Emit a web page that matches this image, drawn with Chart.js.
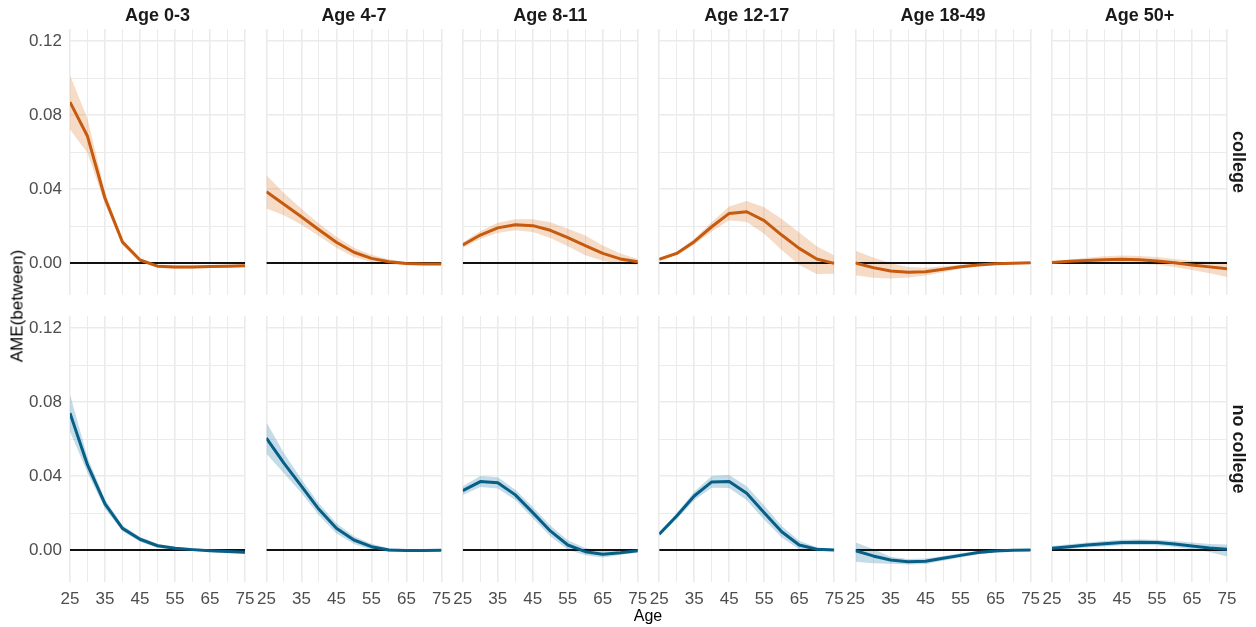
<!DOCTYPE html>
<html>
<head>
<meta charset="utf-8">
<title>AME(between) by age</title>
<script src="https://cdn.jsdelivr.net/npm/chart.js@4.4.1/dist/chart.umd.min.js"></script>
<style>
  html, body { margin: 0; padding: 0; background: #ffffff; }
  #wrap { position: relative; width: 1256px; height: 627px; overflow: hidden;
          font-family: "Liberation Sans", Arial, sans-serif; }
  #wrap canvas { position: absolute; left: 0; top: 0; }
  .lab { position: absolute; white-space: nowrap; line-height: 1; }
</style>
</head>
<body>
<div id="wrap"></div>
<script>
// ---- data -------------------------------------------------------------
const ages = [25, 30, 35, 40, 45, 50, 55, 60, 65, 70, 75];
const childAgeGroups = ['Age 0-3', 'Age 4-7', 'Age 8-11', 'Age 12-17', 'Age 18-49', 'Age 50+'];
const educationLevels = ['college', 'no college'];
const yGridValues = [0, 0.02, 0.04, 0.06, 0.08, 0.10, 0.12];
const yTickLabels = ['0.00', '', '0.04', '', '0.08', '', '0.12'];
const xTickLabels = ['25', '', '35', '', '45', '', '55', '', '65', '', '75'];
const referenceLevel = 0;

// college: estimate, lower and upper bound per age
const collegeEst03  = [0.0870, 0.0685, 0.0350, 0.0113, 0.0016, -0.0017, -0.0022, -0.0021, -0.0019, -0.0017, -0.0015];
const collegeLow03  = [0.0722, 0.0595, 0.0318, 0.0098, 0.0007, -0.0026, -0.0032, -0.0030, -0.0027, -0.0024, -0.0022];
const collegeHigh03 = [0.1015, 0.0780, 0.0385, 0.0128, 0.0025, -0.0008, -0.0012, -0.0012, -0.0011, -0.0010, -0.0008];

const collegeEst47  = [0.0385, 0.0318, 0.0250, 0.0180, 0.0112, 0.0058, 0.0025, 0.0007, -0.0003, -0.0005, -0.0005];
const collegeLow47  = [0.0295, 0.0258, 0.0207, 0.0146, 0.0082, 0.0033, 0.0005, -0.0006, -0.0012, -0.0012, -0.0010];
const collegeHigh47 = [0.0475, 0.0378, 0.0293, 0.0214, 0.0142, 0.0083, 0.0045, 0.0020, 0.0006, 0.0002, 0.0000];

const collegeEst811  = [0.0097, 0.0151, 0.0190, 0.0207, 0.0202, 0.0177, 0.0137, 0.0094, 0.0052, 0.0022, 0.0007];
const collegeLow811  = [0.0082, 0.0130, 0.0163, 0.0177, 0.0167, 0.0135, 0.0090, 0.0042, 0.0012, -0.0005, -0.0008];
const collegeHigh811 = [0.0112, 0.0172, 0.0217, 0.0237, 0.0237, 0.0220, 0.0185, 0.0148, 0.0095, 0.0052, 0.0022];

const collegeEst1217  = [0.0020, 0.0052, 0.0115, 0.0196, 0.0268, 0.0277, 0.0229, 0.0151, 0.0079, 0.0022, -0.0002];
const collegeLow1217  = [0.0014, 0.0042, 0.0100, 0.0170, 0.0231, 0.0222, 0.0158, 0.0070, -0.0011, -0.0060, -0.0058];
const collegeHigh1217 = [0.0026, 0.0062, 0.0130, 0.0222, 0.0305, 0.0335, 0.0302, 0.0238, 0.0165, 0.0090, 0.0040];

const collegeEst1849  = [0.0000, -0.0025, -0.0043, -0.0050, -0.0047, -0.0034, -0.0020, -0.0011, -0.0004, -0.0002, 0.0001];
const collegeLow1849  = [-0.0066, -0.0080, -0.0084, -0.0078, -0.0068, -0.0050, -0.0031, -0.0018, -0.0009, -0.0005, -0.0001];
const collegeHigh1849 = [0.0066, 0.0030, -0.0002, -0.0022, -0.0026, -0.0018, -0.0009, -0.0004, 0.0001, 0.0001, 0.0003];

const collegeEst50  = [0.0003, 0.0009, 0.0014, 0.0018, 0.0020, 0.0017, 0.0011, 0.0001, -0.0011, -0.0021, -0.0031];
const collegeLow50  = [-0.0002, 0.0000, 0.0000, 0.0000, 0.0000, -0.0004, -0.0010, -0.0022, -0.0038, -0.0056, -0.0076];
const collegeHigh50 = [0.0008, 0.0018, 0.0028, 0.0036, 0.0040, 0.0038, 0.0032, 0.0022, 0.0012, 0.0008, 0.0005];

// no college: estimate, lower and upper bound per age
const noCollegeEst03  = [0.0740, 0.0460, 0.0249, 0.0117, 0.0058, 0.0023, 0.0009, 0.0002, -0.0004, -0.0008, -0.0012];
const noCollegeLow03  = [0.0640, 0.0418, 0.0223, 0.0101, 0.0044, 0.0012, 0.0000, -0.0006, -0.0011, -0.0016, -0.0021];
const noCollegeHigh03 = [0.0840, 0.0502, 0.0275, 0.0133, 0.0072, 0.0034, 0.0018, 0.0010, 0.0003, 0.0000, -0.0003];

const noCollegeEst47  = [0.0605, 0.0470, 0.0345, 0.0220, 0.0117, 0.0054, 0.0018, 0.0000, -0.0003, -0.0003, -0.0002];
const noCollegeLow47  = [0.0520, 0.0415, 0.0308, 0.0188, 0.0089, 0.0033, 0.0002, -0.0010, -0.0009, -0.0008, -0.0006];
const noCollegeHigh47 = [0.0690, 0.0525, 0.0382, 0.0252, 0.0145, 0.0075, 0.0034, 0.0010, 0.0003, 0.0002, 0.0002];

const noCollegeEst811  = [0.0321, 0.0370, 0.0363, 0.0298, 0.0202, 0.0103, 0.0027, -0.0009, -0.0023, -0.0015, -0.0004];
const noCollegeLow811  = [0.0297, 0.0340, 0.0333, 0.0270, 0.0172, 0.0074, 0.0001, -0.0029, -0.0040, -0.0027, -0.0013];
const noCollegeHigh811 = [0.0345, 0.0400, 0.0393, 0.0326, 0.0232, 0.0132, 0.0053, 0.0011, -0.0006, -0.0003, 0.0005];

const noCollegeEst1217  = [0.0085, 0.0184, 0.0292, 0.0368, 0.0370, 0.0307, 0.0202, 0.0099, 0.0027, 0.0004, 0.0000];
const noCollegeLow1217  = [0.0075, 0.0168, 0.0269, 0.0336, 0.0335, 0.0269, 0.0164, 0.0068, 0.0004, -0.0007, -0.0006];
const noCollegeHigh1217 = [0.0095, 0.0200, 0.0315, 0.0400, 0.0405, 0.0345, 0.0240, 0.0130, 0.0050, 0.0015, 0.0006];

const noCollegeEst1849  = [-0.0004, -0.0032, -0.0054, -0.0063, -0.0061, -0.0045, -0.0029, -0.0014, -0.0005, -0.0002, 0.0000];
const noCollegeLow1849  = [-0.0063, -0.0072, -0.0075, -0.0078, -0.0076, -0.0058, -0.0040, -0.0023, -0.0012, -0.0006, -0.0003];
const noCollegeHigh1849 = [0.0040, 0.0005, -0.0036, -0.0048, -0.0046, -0.0032, -0.0018, -0.0005, 0.0002, 0.0002, 0.0003];

const noCollegeEst50  = [0.0009, 0.0018, 0.0027, 0.0034, 0.0040, 0.0042, 0.0040, 0.0032, 0.0022, 0.0011, 0.0004];
const noCollegeLow50  = [-0.0003, 0.0005, 0.0013, 0.0019, 0.0025, 0.0027, 0.0025, 0.0016, 0.0004, -0.0011, -0.0035];
const noCollegeHigh50 = [0.0021, 0.0031, 0.0041, 0.0049, 0.0055, 0.0057, 0.0055, 0.0048, 0.0040, 0.0033, 0.0030];

const panelSeries = [
  [
    [collegeEst03, collegeLow03, collegeHigh03],
    [collegeEst47, collegeLow47, collegeHigh47],
    [collegeEst811, collegeLow811, collegeHigh811],
    [collegeEst1217, collegeLow1217, collegeHigh1217],
    [collegeEst1849, collegeLow1849, collegeHigh1849],
    [collegeEst50, collegeLow50, collegeHigh50]
  ],
  [
    [noCollegeEst03, noCollegeLow03, noCollegeHigh03],
    [noCollegeEst47, noCollegeLow47, noCollegeHigh47],
    [noCollegeEst811, noCollegeLow811, noCollegeHigh811],
    [noCollegeEst1217, noCollegeLow1217, noCollegeHigh1217],
    [noCollegeEst1849, noCollegeLow1849, noCollegeHigh1849],
    [noCollegeEst50, noCollegeLow50, noCollegeHigh50]
  ]
];

// ---- styling and layout --------------------------------------------------
const FRAME_W = 1256, FRAME_H = 627;
const PANEL_X0 = 70, PANEL_DX = 196.4, PANEL_W = 175;
const ROW_TOP = [29, 316], PANEL_H = 266;
const Y_AXIS_W = 70;   // room for the y tick labels (first column only)
const X_AXIS_H = 32;   // room for the x tick labels (bottom row only)
const Y_MIN = -0.0173, Y_MAX = 0.1265;

const lineColors = ['#c65a0e', '#075e86'];
const bandColors = ['rgba(221,110,30,0.25)', 'rgba(60,140,175,0.30)'];
const GRID = '#ebebeb';
const TICK_TEXT = '#4d4d4d';
const FONT = '"Liberation Sans", Arial, Helvetica, sans-serif';

Chart.defaults.font.family = FONT;

const wrap = document.getElementById('wrap');

function pts(values) {
  return ages.map((a, i) => ({ x: a, y: values[i] }));
}

function makePanel(row, col) {
  const [est, low, high] = panelSeries[row][col];
  const left = PANEL_X0 + col * PANEL_DX;
  const top = ROW_TOP[row];
  const yAxisW = col === 0 ? Y_AXIS_W : 0;
  const xAxisH = row === 1 ? X_AXIS_H : 0;

  const canvas = document.createElement('canvas');
  canvas.width = FRAME_W;
  canvas.height = FRAME_H;
  wrap.appendChild(canvas);

  new Chart(canvas, {
    type: 'line',
    data: {
      datasets: [
        { // estimate
          data: pts(est),
          borderColor: lineColors[row],
          borderWidth: 3,
          pointRadius: 0,
          tension: 0,
          borderJoinStyle: 'round',
          fill: false
        },
        { // reference line at zero
          data: [{ x: ages[0], y: referenceLevel }, { x: ages[ages.length - 1], y: referenceLevel }],
          borderColor: '#111111',
          borderWidth: 2,
          pointRadius: 0,
          fill: false
        },
        { // upper bound of confidence band, filled down to lower bound
          data: pts(high),
          borderColor: 'rgba(0,0,0,0)',
          borderWidth: 0,
          pointRadius: 0,
          tension: 0,
          backgroundColor: bandColors[row],
          fill: '+1'
        },
        { // lower bound
          data: pts(low),
          borderColor: 'rgba(0,0,0,0)',
          borderWidth: 0,
          pointRadius: 0,
          tension: 0,
          fill: false
        }
      ]
    },
    options: {
      responsive: false,
      animation: false,
      events: [],
      layout: {
        padding: {
          left: left - yAxisW,
          top: top,
          right: FRAME_W - left - PANEL_W,
          bottom: FRAME_H - top - PANEL_H - xAxisH
        }
      },
      plugins: {
        legend: { display: false },
        tooltip: { enabled: false },
        title: { display: false }
      },
      scales: {
        x: {
          type: 'linear',
          min: ages[0],
          max: ages[ages.length - 1],
          afterBuildTicks: s => { s.ticks = ages.map(v => ({ value: v })); },
          afterFit: s => { s.height = xAxisH; s.paddingLeft = 0; s.paddingRight = 0; },
          border: { display: false },
          grid: {
            color: GRID,
            drawTicks: false,
            lineWidth: ctx => (ctx.index % 2 === 0 ? 1.6 : 1.0)
          },
          ticks: {
            display: row === 1,
            autoSkip: false,
            maxRotation: 0,
            minRotation: 0,
            padding: 7,
            color: TICK_TEXT,
            font: { size: 17 },
            callback: (v, i) => xTickLabels[i]
          }
        },
        y: {
          type: 'linear',
          min: Y_MIN,
          max: Y_MAX,
          afterBuildTicks: s => { s.ticks = yGridValues.map(v => ({ value: v })); },
          afterFit: s => { s.width = yAxisW; s.paddingTop = 0; s.paddingBottom = 0; },
          border: { display: false },
          grid: {
            color: GRID,
            drawTicks: false,
            lineWidth: ctx => (ctx.index % 2 === 0 ? 1.6 : 1.0)
          },
          ticks: {
            display: col === 0,
            autoSkip: false,
            padding: 8,
            color: TICK_TEXT,
            font: { size: 17 },
            callback: (v, i) => yTickLabels[i]
          }
        }
      }
    }
  });
}

for (let r = 0; r < educationLevels.length; r++) {
  for (let c = 0; c < childAgeGroups.length; c++) {
    makePanel(r, c);
  }
}

// ---- facet strips and axis titles ---------------------------------------
function addLabel(text, cx, cy, css, rotate) {
  const d = document.createElement('div');
  d.className = 'lab';
  d.textContent = text;
  Object.assign(d.style, css);
  d.style.left = cx + 'px';
  d.style.top = cy + 'px';
  d.style.transform = 'translate(-50%,-50%)' + (rotate ? ' rotate(' + rotate + 'deg)' : '');
  wrap.appendChild(d);
}

const stripCss = { fontSize: '18px', fontWeight: 'bold', color: '#1a1a1a' };
childAgeGroups.forEach((g, c) => {
  addLabel(g, PANEL_X0 + c * PANEL_DX + PANEL_W / 2, 15, stripCss, 0);
});
educationLevels.forEach((e, r) => {
  addLabel(e, 1239, ROW_TOP[r] + PANEL_H / 2, stripCss, 90);
});

addLabel('Age', 648, 616, { fontSize: '16px', color: '#000000' }, 0);
addLabel('AME(between)', 17, 306, { fontSize: '17px', color: '#000000' }, -90);
</script>
</body>
</html>
